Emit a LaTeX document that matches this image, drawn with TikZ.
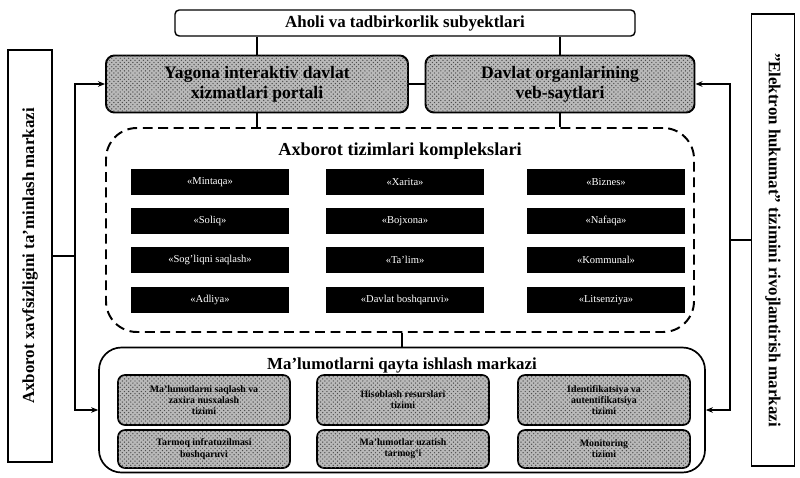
\documentclass[tikz,border=0pt]{standalone}
\usepackage{fontspec}
\setmainfont{Liberation Serif}
\usetikzlibrary{arrows.meta, positioning, calc, patterns}

\def\pxl{0.025cm}
\tikzset{
  box/.style={draw, line width=1pt, rounded corners=3pt, align=center,
    inner sep=1pt, font=\bfseries\fontsize{12}{13}\selectfont},
  greybox/.style={box, fill=gray!55, line width=1.4pt, rounded corners=6pt,
    postaction={pattern=crosshatch dots, pattern color=black!70},
    font=\bfseries\fontsize{12.5}{14}\selectfont},
  blackbox/.style={fill=black, text=white, inner sep=0pt,
    minimum width=158*\pxl, minimum height=26*\pxl,
    font=\fontsize{7.5}{8}\selectfont},
  smallgrey/.style={box, fill=gray!55, line width=1.2pt, rounded corners=5pt,
    postaction={pattern=crosshatch dots, pattern color=black!70},
    minimum width=172*\pxl, font=\bfseries\fontsize{7}{8}\selectfont},
  sidebox/.style={draw, line width=1pt, inner sep=0pt,
    font=\bfseries\fontsize{12}{13}\selectfont},
  link/.style={line width=1.2pt},
  arr/.style={link, -{Stealth[length=5pt,width=4pt]}}
}

\begin{document}
\begin{tikzpicture}[x=0.025cm, y=-0.025cm]
\useasboundingbox (0,0) rectangle (800,478);

% users and the two portals
\node[box, minimum width=460*\pxl, minimum height=26*\pxl] (aholi) at (405,23)
  {Aholi va tadbirkorlik subyektlari};
\node[greybox, minimum width=302*\pxl, minimum height=57*\pxl] (portal) at (257,84)
  {Yagona interaktiv davlat\\xizmatlari portali};
\node[greybox, minimum width=269*\pxl, minimum height=57*\pxl] (sites) at (560,84)
  {Davlat organlarining\\veb-saytlari};

\draw[link] (aholi.south -| portal.north) -- (portal.north);
\draw[link] (aholi.south -| sites.north) -- (sites.north);
\draw[link] (portal.east) -- (sites.west);

% information systems
\node[draw, dashed, dash pattern=on 7pt off 4pt, line width=1.4pt, rounded corners=22pt,
  minimum width=588*\pxl, minimum height=204*\pxl] (axb) at (400,230) {};
\node[font=\bfseries\fontsize{13}{14}\selectfont] (axbt) at (400,151)
  {Axborot tizimlari komplekslari};

\draw[link] (portal.south) -- (portal.south |- axb.north);
\draw[link] (sites.south) -- (sites.south |- axb.north);

\foreach \n/\xc/\yc/\txt in {
  s1/210/182/{«Mintaqa»},
  s2/210/221/{«Soliq»},
  s3/210/260/{«Sog'liqni saqlash»},
  s4/210/300/{«Adliya»},
  s5/405/182/{«Xarita»},
  s6/405/221/{«Bojxona»},
  s7/405/260/{«Ta'lim»},
  s8/405/300/{«Davlat boshqaruvi»},
  s9/606/182/{«Biznes»},
  s10/606/221/{«Nafaqa»},
  s11/606/260/{«Kommunal»},
  s12/606/300/{«Litsenziya»}}
{
  \node[blackbox] (\n) at (\xc,\yc) {\txt};
}

% data processing centre
\node[draw, line width=1.2pt, rounded corners=16pt,
  minimum width=606*\pxl, minimum height=125*\pxl] (markaz) at (402,410) {};
\node[font=\bfseries\fontsize{12}{13}\selectfont] (markazt) at (402,365)
  {Ma'lumotlarni qayta ishlash markazi};
\draw[link] (axb.south -| markaz.north) -- (markaz.north);

\foreach \n/\xc/\yc/\h/\txt in {
  d1/204/400/50/{Ma'lumotlarni saqlash va\\zaxira nusxalash\\tizimi},
  d2/403/400/50/{Hisoblash resurslari\\tizimi},
  d3/604/400/50/{Identifikatsiya va\\autentifikatsiya\\tizimi},
  d4/204/449/38/{Tarmoq infratuzilmasi\\boshqaruvi},
  d5/403/449/38/{Ma'lumotlar uzatish\\tarmog'i},
  d6/604/449/38/{Monitoring\\tizimi}}
{
  \node[smallgrey, minimum height=\h*\pxl] (\n) at (\xc,\yc) {\txt};
}

% side centres
\node[sidebox, rotate=90, minimum width=412*\pxl, minimum height=44*\pxl] (xavf) at (30,256)
  {Axborot xavfsizligini ta'minlash markazi};
\node[sidebox, rotate=-90, minimum width=452*\pxl, minimum height=43*\pxl] (ehuk) at (773,240)
  {"Elektron hukumat" tizimini rivojlantirish markazi};

\coordinate (lj) at (75,256);
\coordinate (rj) at (730,240);
\draw[link] (xavf.south) -- (lj);
\draw[arr] (lj) |- (portal.west);
\draw[arr] (lj) |- (markaz.west);
\draw[link] (ehuk.south) -- (rj);
\draw[arr] (rj) |- (sites.east);
\draw[arr] (rj) |- (markaz.east);
\end{tikzpicture}
\end{document}
